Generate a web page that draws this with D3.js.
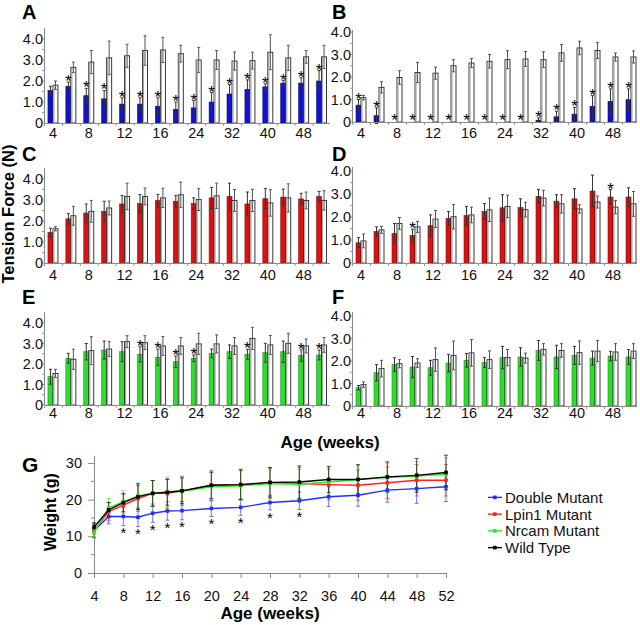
<!DOCTYPE html>
<html><head><meta charset="utf-8">
<script src="https://cdn.jsdelivr.net/npm/d3@7"></script>
<style>body{margin:0;background:#fff;} svg{display:block;font-family:Arial,"Liberation Sans",sans-serif;}</style>
</head><body><svg id="c" width="640" height="625"></svg>
<script>
// ---------- DATA ----------
const ages = [4,6,8,10,12,14,16,20,24,28,32,36,40,44,48,52];
const tickAges = [4,8,12,16,24,32,40,48];
const yTickVals = [0,1,2,3,4];
const yTickLabels = ["0","1.0","2.0","3.0","4.0"];

// Panel A (double mutant vs wild type)
const aMut    = [1.55,1.75,1.3,1.15,0.9,0.9,0.8,0.65,0.72,1.0,1.38,1.6,1.72,1.9,1.9,2.0];
const aMutErr = [0.2,0.2,0.35,0.4,0.3,0.3,0.4,0.35,0.35,0.45,0.45,0.45,0.15,0.12,0.25,0.5];
const aWt     = [1.8,2.65,2.9,3.1,3.2,3.45,3.48,3.3,3.0,3.0,2.95,2.97,3.37,3.1,3.15,3.15];
const aWtErr  = [0.2,0.25,0.55,0.8,0.55,0.7,0.6,0.4,0.6,0.45,0.43,0.4,0.83,0.6,0.3,0.55];
const aStars  = [1,2,3,4,5,6,7,8,9,10,11,12,13,14,15];

// Panel B
const bMut    = [0.75,0.28,0,0,0,0,0,0,0,0,0.08,0.23,0.35,0.7,0.92,0.99];
const bMutErr = [0.25,0.35,0,0,0,0,0,0,0,0,0.1,0.25,0.3,0.47,0.55,0.48];
const bWt     = [1.08,1.54,1.98,2.2,2.17,2.5,2.62,2.7,2.77,2.8,2.77,3.07,3.29,3.18,2.89,2.89];
const bWtErr  = [0.1,0.25,0.3,0.45,0.27,0.27,0.2,0.3,0.4,0.33,0.35,0.37,0.3,0.36,0.18,0.27];
const bStars  = [0,1,2,3,4,5,6,7,8,9,10,11,12,13,14,15];

// Panel C (Lpin1 mutant vs wild type)
const cMut    = [1.46,2.1,2.38,2.46,2.81,2.83,2.97,2.94,2.83,3.1,3.17,2.81,3.06,3.14,3.05,3.16];
const cMutErr = [0.2,0.25,0.43,0.48,0.41,0.43,0.3,0.27,0.27,0.5,0.63,0.57,0.48,0.38,0.27,0.25];
const cWt     = [1.63,2.25,2.46,2.62,3.17,3.17,3.1,3.25,3.02,3.2,2.98,2.98,2.86,3.1,2.98,2.98];
const cWtErr  = [0.1,0.45,0.52,0.33,0.63,0.4,0.46,0.6,0.52,0.6,0.52,0.53,0.63,0.67,0.4,0.46];
const cStars  = [];

// Panel D
const dMut    = [0.88,1.37,1.28,1.2,1.62,1.94,2.06,2.24,2.4,2.41,2.9,2.69,2.79,3.13,2.87,2.87];
const dMutErr = [0.22,0.2,0.44,0.27,0.47,0.3,0.4,0.34,0.57,0.38,0.3,0.28,0.44,0.69,0.32,0.4];
const dWt     = [0.96,1.44,1.72,1.57,1.91,2.01,2.09,2.31,2.46,2.32,2.82,2.57,2.35,2.65,2.43,2.57];
const dWtErr  = [0.3,0.15,0.26,0.24,0.37,0.53,0.34,0.51,0.49,0.32,0.34,0.4,0.18,0.26,0.29,0.54];
const dStars  = [3,14];

// Panel E (Nrcam mutant vs wild type)
const eMut    = [1.38,2.28,2.6,2.68,2.6,2.47,2.33,2.11,2.28,2.52,2.6,2.47,2.55,2.6,2.41,2.44];
const eMutErr = [0.36,0.24,0.4,0.44,0.49,0.37,0.4,0.28,0.16,0.21,0.33,0.24,0.46,0.52,0.28,0.24];
const eWt     = [1.54,2.23,2.65,2.73,3.09,3.04,2.88,2.88,2.98,2.98,2.88,3.25,2.93,3.01,2.88,2.93];
const eWtErr  = [0.2,0.49,0.68,0.36,0.29,0.34,0.46,0.41,0.52,0.44,0.41,0.54,0.46,0.49,0.34,0.36];
const eStars  = [5,6,7,8,11,14,15];

// Panel F
const fMut    = [0.81,1.48,1.84,1.73,1.7,1.91,2.03,1.93,2.15,2.18,2.47,2.18,2.25,2.13,2.22,2.18];
const fMutErr = [0.1,0.36,0.3,0.47,0.33,0.39,0.3,0.22,0.5,0.41,0.44,0.52,0.4,0.31,0.21,0.33];
const fWt     = [0.95,1.66,1.88,1.91,2.06,2.25,2.36,2.06,2.15,2.13,2.52,2.47,2.37,2.44,2.4,2.44];
const fWtErr  = [0.12,0.37,0.18,0.19,0.52,0.64,0.59,0.39,0.36,0.22,0.25,0.3,0.52,0.47,0.37,0.33];
const fStars  = [];

// Panel G (body weight, g)
const gTicks = [4,8,12,16,20,24,28,32,36,40,44,48,52];
const gDouble    = [11.5,15.4,15.4,15.2,16.3,16.9,17.0,17.6,17.9,19.2,19.7,20.8,21.2,22.6,23.0,23.5];
const gDoubleErr = [1.8,2.0,2.5,2.5,2.5,2.5,2.5,2.2,2.2,2.0,2.4,2.7,3.0,3.3,4.0,4.0];
const gLpin      = [11.6,16.7,18.5,20.3,21.7,21.7,22.4,23.9,24.1,24.6,24.4,24.1,23.9,24.6,25.3,25.3];
const gLpinErr   = [1.8,2.5,3.0,3.5,3.5,4.0,4.0,4.0,4.2,4.2,4.4,4.2,4.2,4.3,4.3,4.3];
const gNrcam     = [11.0,17.8,19.4,21.0,21.7,22.1,22.3,23.5,23.8,24.4,24.2,24.8,25.5,26.0,26.4,26.9];
const gNrcamErr  = [1.5,2.5,3.0,3.5,3.5,4.0,3.8,4.0,4.0,4.0,4.0,4.0,4.0,4.0,4.0,4.5];
const gWild      = [12.5,17.2,19.2,20.8,21.7,22.0,22.4,23.9,24.1,24.7,24.8,25.5,25.5,26.2,26.6,27.4];
const gWildErr   = [1.2,2.0,2.5,3.5,3.5,3.5,3.5,3.6,4.0,4.0,4.4,3.6,4.0,4.1,4.6,4.7];
const gStarAges  = [8,10,12,14,16,20,24,28,32];
const gNames = ["Double Mutant","Lpin1 Mutant","Nrcam Mutant","Wild Type"];

// ---------- DRAWING ----------
const svg = d3.select("#c");
const BLUE = "#1212cc", RED = "#dd1111", GREEN = "#2ede2e";
const panels = [
  {id:"A", mut:aMut, me:aMutErr, wt:aWt, we:aWtErr, stars:aStars, color:BLUE, left:44, right:330.5, axEnd:330, y0:123, y4:39, top:28, lx:22, ly:19, tickY:138},
  {id:"B", mut:bMut, me:bMutErr, wt:bWt, we:bWtErr, stars:bStars, color:BLUE, left:352, right:640, axEnd:637, y0:122, y4:32, top:30, lx:332, ly:19, tickY:138},
  {id:"C", mut:cMut, me:cMutErr, wt:cWt, we:cWtErr, stars:cStars, color:RED, left:44, right:330.5, axEnd:330, y0:263, y4:179, top:168, lx:22, ly:161, tickY:280},
  {id:"D", mut:dMut, me:dMutErr, wt:dWt, we:dWtErr, stars:dStars, color:RED, left:352, right:640, axEnd:637, y0:263, y4:171, top:167, lx:332, ly:161, tickY:280},
  {id:"E", mut:eMut, me:eMutErr, wt:eWt, we:eWtErr, stars:eStars, color:GREEN, left:44, right:330.5, axEnd:330, y0:405, y4:323, top:312, lx:22, ly:304, tickY:418},
  {id:"F", mut:fMut, me:fMutErr, wt:fWt, we:fWtErr, stars:fStars, color:GREEN, left:352, right:640, axEnd:637, y0:406, y4:316, top:312, lx:332, ly:304, tickY:418}
];

panels.forEach(P => {
  const g = svg.append("g");
  const xb = d3.scaleBand().domain(ages).range([P.left, P.right]);
  const xs = d3.scaleBand().domain(["mut","wt"]).range([-5, 5]);
  const y = d3.scaleLinear().domain([0,4]).range([P.y0, P.y4]);
  const cx = a => xb(a) + xb.bandwidth()/2;

  // letter
  g.append("text").attr("x", P.lx).attr("y", P.ly).attr("font-size", 20).attr("font-weight", "bold").text(P.id);

  // bars
  ages.forEach((a, i) => {
    const c = cx(a);
    if (P.mut[i] > 0) {
      g.append("rect").attr("x", c + xs("mut")).attr("y", y(P.mut[i]))
        .attr("width", xs.bandwidth()).attr("height", P.y0 - y(P.mut[i]))
        .attr("fill", P.color).attr("stroke", d3.color(P.color).darker(1.2)).attr("stroke-width", 0.6);
    }
    g.append("rect").attr("x", c + xs("wt")).attr("y", y(P.wt[i]))
      .attr("width", xs.bandwidth()).attr("height", P.y0 - y(P.wt[i]))
      .attr("fill", "#fff").attr("stroke", "#222").attr("stroke-width", 0.9);
    g.append("line").attr("x1", c + xs("wt") + 1).attr("x2", c + xs("wt") + 1)
      .attr("y1", y(P.wt[i]) + 0.5).attr("y2", P.y0).attr("stroke", "#aaa").attr("stroke-width", 1.2);
    [["mut", P.mut[i], P.me[i]], ["wt", P.wt[i], P.we[i]]].forEach(([k, v, e]) => {
      if (v <= 0 || e <= 0) return;
      const ex = c + xs(k) + xs.bandwidth()/2;
      const col = k === "wt" ? "#555" : "#333";
      g.append("line").attr("x1", ex).attr("x2", ex).attr("y1", y(v - e)).attr("y2", y(v + e)).attr("stroke", col).attr("stroke-width", 1);
      [v - e, v + e].forEach(t => g.append("line").attr("x1", ex - 1.5).attr("x2", ex + 1.5).attr("y1", y(t)).attr("y2", y(t)).attr("stroke", col).attr("stroke-width", 1));
    });
  });

  // stars
  P.stars.forEach(i => {
    const a = ages[i];
    const top = P.mut[i] > 0 ? y(P.mut[i] + P.me[i]) : P.y0 - 1;
    g.append("text").attr("x", cx(a) + xs("mut") + xs.bandwidth()/2).attr("y", top + 5)
      .attr("text-anchor", "middle").attr("font-size", 17).text("*");
  });

  // axes
  g.append("line").attr("x1", P.left).attr("x2", P.axEnd).attr("y1", P.y0 + 0.5).attr("y2", P.y0 + 0.5).attr("stroke", "#888");
  g.append("line").attr("x1", P.left + 0.5).attr("x2", P.left + 0.5).attr("y1", P.top).attr("y2", P.y0 + 1).attr("stroke", "#888");
  ages.forEach(a => g.append("line").attr("x1", xb(a) + 0.5).attr("x2", xb(a) + 0.5).attr("y1", P.y0).attr("y2", P.y0 + 3).attr("stroke", "#999"));
  d3.range(0, 4.01, 0.5).forEach(t => g.append("line").attr("x1", P.left - 2).attr("x2", P.left).attr("y1", y(t)).attr("y2", y(t)).attr("stroke", "#999"));
  yTickVals.forEach((t, k) => g.append("text").attr("x", P.left - 1).attr("y", y(t)).attr("dy", "0.36em")
    .attr("text-anchor", "end").attr("font-size", 14.5).attr("fill", "#111").text(yTickLabels[k]));
  tickAges.forEach(a => g.append("text").attr("x", cx(a)).attr("y", P.tickY)
    .attr("text-anchor", "middle").attr("font-size", 14.5).attr("fill", "#111").text(a));
});

// shared labels
svg.append("text").attr("transform", "translate(14,214) rotate(-90)").attr("text-anchor", "middle")
  .attr("font-size", 16.5).attr("font-weight", "bold").text("Tension Force (N)");
svg.append("text").attr("x", 330).attr("y", 448).attr("text-anchor", "middle")
  .attr("font-size", 17).attr("font-weight", "bold").text("Age (weeks)");

// ---------- Panel G ----------
const gx = d3.scaleLinear().domain([4,52]).range([94,446]);
const gy = d3.scaleLinear().domain([0,32]).range([573,455.6]);
const G = svg.append("g");
G.append("text").attr("x", 22).attr("y", 472).attr("font-size", 21).attr("font-weight", "bold").text("G");

const xAx = G.append("g").attr("transform", "translate(0,573)")
  .call(d3.axisBottom(gx).tickValues(gTicks).tickSize(5).tickPadding(13).tickSizeOuter(0));
const yAx = G.append("g").attr("transform", "translate(94,0)")
  .call(d3.axisLeft(gy).tickValues([0,10,20,30]).tickSize(6).tickPadding(6).tickSizeOuter(0));
[xAx, yAx].forEach(ax => {
  ax.selectAll("path,line").attr("stroke", "#888");
  ax.selectAll("text").attr("font-size", 14.5).attr("fill", "#111").attr("font-family", "Arial,'Liberation Sans',sans-serif");
});
[5,15,25].forEach(t => G.append("line").attr("x1", 91).attr("x2", 94).attr("y1", gy(t)).attr("y2", gy(t)).attr("stroke", "#888"));

const series = [
  {vals:gDouble, err:gDoubleErr, col:"#1f2fff"},
  {vals:gLpin, err:gLpinErr, col:"#ff2020"},
  {vals:gNrcam, err:gNrcamErr, col:"#20ee20"},
  {vals:gWild, err:gWildErr, col:"#000"}
];
series.forEach(s => {
  ages.forEach((a, i) => {
    const X = gx(a);
    G.append("line").attr("x1", X).attr("x2", X).attr("y1", gy(s.vals[i] - s.err[i])).attr("y2", gy(s.vals[i] + s.err[i])).attr("stroke", s.col).attr("stroke-width", 0.8).attr("opacity", 0.8);
    [s.vals[i] - s.err[i], s.vals[i] + s.err[i]].forEach(t => G.append("line").attr("x1", X - 2).attr("x2", X + 2).attr("y1", gy(t)).attr("y2", gy(t)).attr("stroke", s.col).attr("stroke-width", 0.8).attr("opacity", 0.8));
  });
});
const line = d3.line().x((d, i) => gx(ages[i])).y(d => gy(d));
series.forEach(s => {
  G.append("path").datum(s.vals).attr("d", line).attr("fill", "none").attr("stroke", s.col).attr("stroke-width", 1.4);
  s.vals.forEach((v, i) => G.append("rect").attr("x", gx(ages[i]) - 1.8).attr("y", gy(v) - 1.8).attr("width", 3.6).attr("height", 3.6).attr("fill", s.col));
});
gStarAges.forEach(a => {
  const i = ages.indexOf(a);
  G.append("text").attr("x", gx(a)).attr("y", gy(gDouble[i] - gDoubleErr[i] - 1.8) + 6)
    .attr("text-anchor", "middle").attr("font-size", 15).text("*");
});
G.append("text").attr("transform", "translate(56,512) rotate(-90)").attr("text-anchor", "middle")
  .attr("font-size", 16).attr("font-weight", "bold").text("Weight (g)");
G.append("text").attr("x", 270).attr("y", 619).attr("text-anchor", "middle")
  .attr("font-size", 17).attr("font-weight", "bold").text("Age (weeks)");

// legend
const legY = d3.scaleBand().domain(gNames).range([489, 556]);
gNames.forEach((n, k) => {
  const yy = legY(n) + legY.bandwidth()/2;
  G.append("line").attr("x1", 488).attr("x2", 502).attr("y1", yy).attr("y2", yy).attr("stroke", series[k].col).attr("stroke-width", 1.4);
  G.append("rect").attr("x", 493).attr("y", yy - 1.8).attr("width", 3.6).attr("height", 3.6).attr("fill", series[k].col);
  G.append("text").attr("x", 505).attr("y", yy).attr("dy", "0.36em").attr("font-size", 15).attr("fill", "#111").text(n);
});
</script></body></html>
